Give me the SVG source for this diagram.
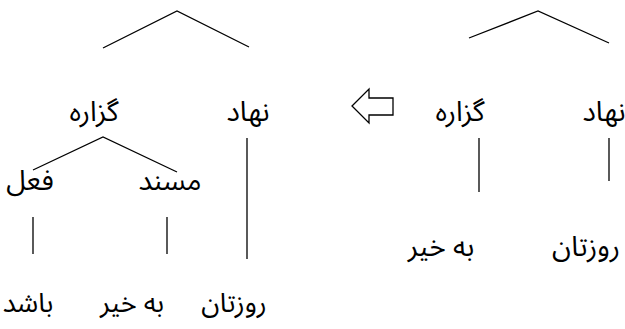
<svg xmlns="http://www.w3.org/2000/svg" width="625" height="329" viewBox="0 0 625 329">
<style>
text{font-family:"Noto Sans Arabic","DejaVu Sans",sans-serif;font-size:28px;font-weight:normal;fill:#000;text-anchor:middle;direction:rtl}
.b{font-size:27px}
.l{stroke:#000;stroke-width:1.3;fill:none}
</style>
<rect width="625" height="329" fill="#fff"/>
<g id="connectors">
<polyline class="l" points="103,48 177,11 249,47"/>
<polyline class="l" points="33,170 103,137 177,172"/>
<line class="l" x1="247" y1="138" x2="247" y2="259"/>
<line class="l" x1="33" y1="217" x2="33" y2="254"/>
<line class="l" x1="167" y1="217" x2="167" y2="254"/>
<polyline class="l" points="469,38 538,11 609,43"/>
<line class="l" x1="479" y1="138" x2="479" y2="192"/>
<line class="l" x1="609" y1="138" x2="609" y2="181"/>
</g>
<g id="arrow"><polygon class="l" stroke-width="1.6" points="352,106 369,89 369,98 393,98 393,115 369,115 369,123"/></g>
<g id="n-gozare-l"><text x="94" y="121">گزاره</text></g>
<g id="n-nahad-l"><text x="248" y="121">نهاد</text></g>
<g id="n-fel"><text x="30" y="190">فعل</text></g>
<g id="n-mosnad"><text x="170" y="190">مسند</text></g>
<g id="n-bashad"><text class="b" x="28" y="312">باشد</text></g>
<g id="n-bekheyr-l"><text class="b" x="132" y="312">به خیر</text></g>
<g id="n-roozetan-l"><text class="b" x="234" y="312">روزتان</text></g>
<g id="n-gozare-r"><text x="460" y="121">گزاره</text></g>
<g id="n-nahad-r"><text x="604" y="121">نهاد</text></g>
<g id="n-bekheyr-r"><text x="441" y="256">به خیر</text></g>
<g id="n-roozetan-r"><text x="586" y="256">روزتان</text></g>
</svg>
